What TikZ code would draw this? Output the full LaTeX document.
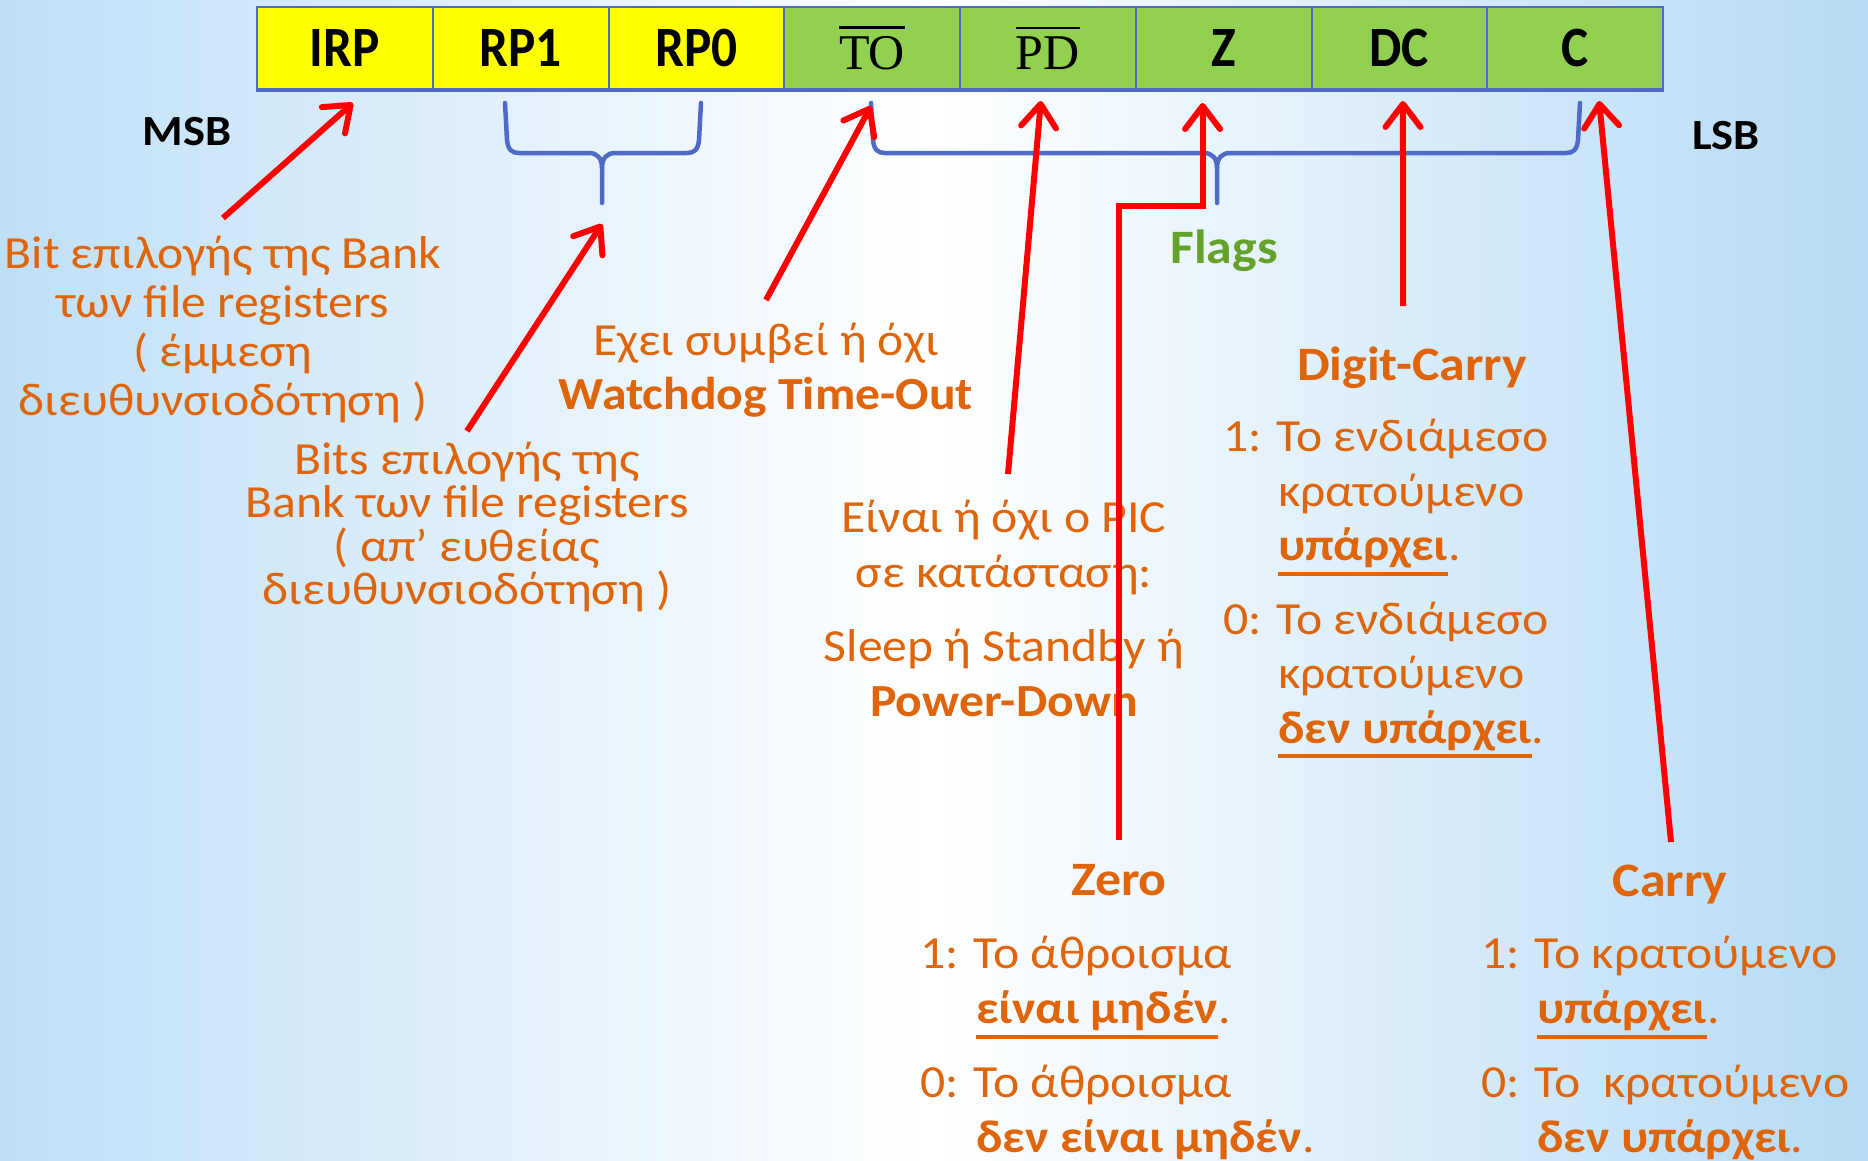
\documentclass[tikz,border=0pt]{standalone}
\usepackage{fontspec}
\setmainfont[FakeStretch=1.08]{Carlito}
\newfontfamily\condfont[FakeStretch=0.9]{Carlito}
\newfontfamily\serifnt{Liberation Serif}
\usetikzlibrary{arrows.meta}
\definecolor{bgblue}{HTML}{BFDFF7}
\definecolor{bgblueR}{HTML}{B5DAF5}
\definecolor{regblue}{HTML}{4F6BC6}
\definecolor{yel}{HTML}{FFFF00}
\definecolor{grn}{HTML}{92D050}
\definecolor{org}{HTML}{DF650A}
\definecolor{flg}{HTML}{64A22A}
\definecolor{arr}{HTML}{FF0000}
\newcommand\undr[1]{\setbox0=\hbox{#1}\rlap{\rule[-15pt]{\wd0}{4pt}}\box0}
\newcommand\ovr[1]{\setbox0=\hbox{#1}\rlap{\rule[\dimexpr\ht0+7pt\relax]{\wd0}{2.5pt}}\box0}
\begin{document}
\begin{tikzpicture}[x=1pt,y=-1pt,
  cell/.style={draw=regblue, line width=2pt, minimum width=175.75pt, minimum height=82pt, inner sep=0pt,
    font=\condfont\fontsize{57}{57}\selectfont\bfseries},
  lbl/.style={inner sep=0pt, font=\fontsize{43}{43}\selectfont\bfseries},
  txt/.style={text=org, inner sep=0pt, align=center, font=\fontsize{46}{49}\selectfont},
  hd/.style={text=org, inner sep=0pt, font=\fontsize{48}{50}\selectfont\bfseries},
  brc/.style={draw=regblue, line width=4.5pt, line cap=round},
  redarr/.style={draw=arr, line width=6pt, -{Straight Barb[length=23pt,width=35pt,round]}}]
\useasboundingbox (0,0) rectangle (1868,1160);
\clip (0,0) rectangle (1868,1160);
\shade[left color=bgblue, right color=bgblueR, middle color=white] (0,0) rectangle (1868,1160);
% register
\node[cell, fill=yel] (irp) at (344.875,48) {IRP};
\node[cell, fill=yel] (rpone) at (520.625,48) {RP1};
\node[cell, fill=yel] (rpzero) at (696.375,48) {RP0};
\node[cell, fill=grn] (to) at (872.125,48) {\serifnt\mdseries\fontsize{50}{50}\selectfont\ovr{TO}};
\node[cell, fill=grn] (pd) at (1047.875,48) {\serifnt\mdseries\fontsize{50}{50}\selectfont\ovr{PD}};
\node[cell, fill=grn] (z) at (1223.625,48) {Z};
\node[cell, fill=grn] (dc) at (1399.375,48) {DC};
\node[cell, fill=grn] (c) at (1575.125,48) {C};
\draw[regblue, line width=4.5pt] (irp.south west) -- (c.south east);
\node[lbl] (msb) at (187,132) {MSB};
\node[lbl] (lsb) at (1726,136) {LSB};
% braces
\coordinate (b1tip) at (602,203);
\coordinate (b2tip) at (1217,203);
\draw[brc] (505,103) -- (507,140) .. controls (508,150) and (512,153) .. (519,153) -- (589,153)
  .. controls (597,153) and (602,158) .. (602,168) -- (b1tip);
\draw[brc] (602,168) .. controls (602,158) and (607,153) .. (615,153) -- (687,153)
  .. controls (694,153) and (698,150) .. (699,140) -- (701,103);
\draw[brc] (871,103) -- (873,140) .. controls (874,150) and (878,153) .. (885,153) -- (1204,153)
  .. controls (1212,153) and (1217,158) .. (1217,168) -- (b2tip);
\draw[brc] (1217,168) .. controls (1217,158) and (1222,153) .. (1230,153) -- (1566,153)
  .. controls (1573,153) and (1577,150) .. (1578,140) -- (1580,103);
% texts
\node[txt] (bankind) at (223,330) {Bit επιλογής της Bank\\των file registers\\( έμμεση\\διευθυνσιοδότηση )};
\node[txt, font=\fontsize{46}{43.5}\selectfont] (bankdir) at (467,527) {Bits επιλογής της\\Bank των file registers\\( απ’ ευθείας\\διευθυνσιοδότηση )};
\node[txt, font=\fontsize{46}{54}\selectfont] (wdt) at (766,370) {Εχει συμβεί ή όχι\\\textbf{Watchdog Time-Out}};
\node[txt, font=\fontsize{46}{55}\selectfont] (pic) at (1004,608) {Είναι ή όχι ο PIC\\σε κατάσταση:\\[19pt]Sleep ή Standby ή\\\textbf{Power-Down}};
\node[hd, text=flg] (flags) at (1224,251) {Flags};
\node[hd] (digit) at (1412,368) {Digit-Carry};
\node[txt, align=left, anchor=west, font=\fontsize{46}{54.5}\selectfont] (dctext) at (1223,589) {1: Το ενδιάμεσο\\\hspace*{55pt}κρατούμενο\\\hspace*{55pt}\textbf{\undr{υπάρχει}}.\\[19pt]0: Το ενδιάμεσο\\\hspace*{55pt}κρατούμενο\\\hspace*{55pt}\textbf{\undr{δεν υπάρχει}}.};
\node[hd] (zero) at (1119,880) {Zero};
\node[txt, align=left, anchor=west, font=\fontsize{46}{55}\selectfont] (zerotext) at (920,1052) {1: Το άθροισμα\\\hspace*{56pt}\textbf{\undr{είναι μηδέν}}.\\[19pt]0: Το άθροισμα\\\hspace*{56pt}\textbf{\undr{δεν είναι μηδέν}}.};
\node[hd] (carry) at (1670,885) {Carry};
\node[txt, align=left, anchor=west, font=\fontsize{46}{55}\selectfont] (carrytext) at (1481,1052) {1: Το κρατούμενο\\\hspace*{56pt}\textbf{\undr{υπάρχει}}.\\[19pt]0: Το\ \ κρατούμενο\\\hspace*{56pt}\textbf{\undr{δεν υπάρχει}}.};
% arrows
\coordinate (t1) at (223,218);
\coordinate (t2) at (467,431);
\coordinate (t3) at (766,300);
\coordinate (t4) at (1008,474);
\coordinate (t5) at (1119,840);
\coordinate (t6) at (1403,306);
\coordinate (t7) at (1671,842);
\coordinate (zt) at ([xshift=-21pt,yshift=-13pt]z.south);
\draw[redarr] (t1) -- ([xshift=8pt,yshift=-13pt]irp.south);
\draw[redarr] (t2) -- ([yshift=-21pt]b1tip);
\draw[redarr] (t3) -- ([xshift=-1pt,yshift=-16pt]to.south);
\draw[redarr] (t4) -- ([xshift=-7pt,yshift=-11pt]pd.south);
\draw[redarr] (t5) -- (1119,206) -| (zt);
\draw[redarr] (t6) -- ([xshift=3.6pt,yshift=-11pt]dc.south);
\draw[redarr] (t7) -- ([xshift=24pt,yshift=-11pt]c.south);
\end{tikzpicture}
\end{document}
